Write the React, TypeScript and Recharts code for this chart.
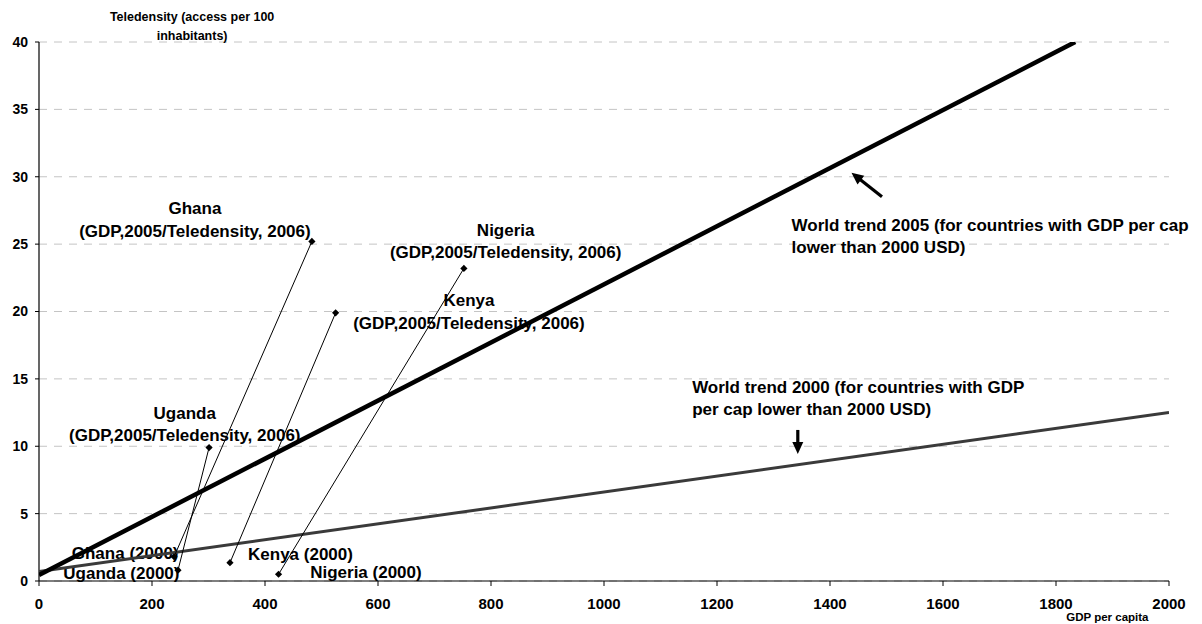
import React from 'react';
import {
  ComposedChart,
  Scatter,
  XAxis,
  YAxis,
  CartesianGrid,
  ReferenceDot,
  ReferenceLine,
} from 'recharts';

// ---- data ----
const xTicks = [0, 200, 400, 600, 800, 1000, 1200, 1400, 1600, 1800, 2000];
const yTicks = [0, 5, 10, 15, 20, 25, 30, 35, 40];

const countries = ['Ghana', 'Uganda', 'Kenya', 'Nigeria'];
const gdp2000 = [239, 246, 338, 424];
const tele2000 = [1.8, 0.8, 1.36, 0.5];
const gdp2005 = [483, 301, 525, 752];
const tele2006 = [25.2, 9.9, 19.9, 23.2];

const trend2005Gdp = [0, 1834];
const trend2005Tele = [0.45, 40];
const trend2000Gdp = [0, 2000];
const trend2000Tele = [0.7, 12.5];

// annotation texts (placed in data coordinates)
const noteLines = [
  ['Ghana', '(GDP,2005/Teledensity, 2006)'],
  ['Nigeria', '(GDP,2005/Teledensity, 2006)'],
  ['Kenya', '(GDP,2005/Teledensity, 2006)'],
  ['Uganda', '(GDP,2005/Teledensity, 2006)'],
  ['Ghana (2000)'],
  ['Uganda (2000)'],
  ['Kenya (2000)'],
  ['Nigeria (2000)'],
  ['World trend 2005 (for countries with GDP per cap', 'lower than 2000 USD)'],
  ['World trend 2000 (for countries with GDP', 'per cap lower than 2000 USD)'],
];
const noteX = [276, 826, 761, 258, 58, 43, 370, 480, 1332, 1156];
const noteY = [27.68, 26.05, 20.85, 12.49, 2.1, 0.57, 2.0, 0.65, 26.42, 14.42];
const noteAnchor = ['middle', 'middle', 'middle', 'middle', 'start', 'start', 'start', 'start', 'start', 'start'];

const yTitle = ['Teledensity (access per 100', 'inhabitants)'];
const xTitle = 'GDP per capita';

// arrows: tail -> tip
const arrowTail = [
  { x: 1492, y: 28.52 },
  { x: 1343, y: 11.21 },
];
const arrowTip = [
  { x: 1438, y: 30.3 },
  { x: 1343, y: 9.42 },
];

const FONT = "'Liberation Sans', Arial, Helvetica, sans-serif";

const countrySeries = countries.map((name, i) => ({
  name,
  data: [
    { x: gdp2000[i], y: tele2000[i] },
    { x: gdp2005[i], y: tele2006[i] },
  ],
}));
const trend2005 = trend2005Gdp.map((x, i) => ({ x, y: trend2005Tele[i] }));
const trend2000 = trend2000Gdp.map((x, i) => ({ x, y: trend2000Tele[i] }));

const Diamond = (props: any) => {
  const { cx, cy } = props;
  if (cx == null || cy == null) return <g />;
  const s = 3.6;
  return (
    <path
      d={`M${cx},${cy - s}L${cx + s},${cy}L${cx},${cy + s}L${cx - s},${cy}Z`}
      fill="#000"
    />
  );
};

const NoShape = () => <g />;

const makeText =
  (lines: string[], anchor: string, size: number, lineGap: number) =>
  (props: any) => {
    const { cx, cy } = props;
    return (
      <text
        x={cx}
        y={cy}
        textAnchor={anchor as any}
        fontFamily={FONT}
        fontWeight="bold"
        fontSize={size}
        fill="#000"
        dominantBaseline="central"
      >
        {lines.map((l, k) => (
          <tspan key={k} x={cx} dy={k === 0 ? 0 : lineGap}>
            {l}
          </tspan>
        ))}
      </text>
    );
  };

const ArrowShape = (props: any) => {
  const { x1, y1, x2, y2 } = props;
  if ([x1, y1, x2, y2].some((v) => v == null || isNaN(v))) return <g />;
  const dx = x2 - x1;
  const dy = y2 - y1;
  const len = Math.sqrt(dx * dx + dy * dy) || 1;
  const ux = dx / len;
  const uy = dy / len;
  const head = 12;
  const half = 5.5;
  const bx = x2 - ux * head;
  const by = y2 - uy * head;
  const px = -uy;
  const py = ux;
  return (
    <g>
      <line x1={x1} y1={y1} x2={bx + ux * 1} y2={by + uy * 1} stroke="#000" strokeWidth={3.2} />
      <polygon
        points={`${x2},${y2} ${bx + px * half},${by + py * half} ${bx - px * half},${by - py * half}`}
        fill="#000"
      />
    </g>
  );
};

export default function App() {
  return (
    <div style={{ position: 'absolute', left: 0, top: 0, width: 1202, height: 624, background: '#fff' }}>
      <ComposedChart
        width={1202}
        height={624}
        margin={{ top: 42, right: 33, bottom: 13, left: 0 }}
      >
        <CartesianGrid
          vertical={false}
          stroke="#c4c4c4"
          strokeDasharray="8 7"
          strokeWidth={1}
        />
        <XAxis
          type="number"
          dataKey="x"
          domain={[0, 2000]}
          ticks={xTicks}
          interval={0}
          height={30}
          axisLine={{ stroke: '#000', strokeWidth: 1.2 }}
          tickLine={{ stroke: '#000' }}
          tickSize={5}
          tickMargin={12}
          tick={{ fill: '#000', fontSize: 15, fontWeight: 'bold', fontFamily: FONT }}
          allowDataOverflow
        />
        <YAxis
          type="number"
          dataKey="y"
          domain={[0, 40]}
          ticks={yTicks}
          interval={0}
          width={39}
          axisLine={{ stroke: '#000', strokeWidth: 1.2 }}
          tickLine={{ stroke: '#000' }}
          tickSize={4}
          tickMargin={7}
          tick={{ fill: '#000', fontSize: 14, fontWeight: 'bold', fontFamily: FONT }}
          allowDataOverflow
        />

        {noteLines.map((lines, i) => (
          <ReferenceDot
            key={'n' + i}
            x={noteX[i]}
            y={noteY[i]}
            r={0}
            ifOverflow="visible"
            shape={makeText(lines, noteAnchor[i], 17, 22.5)}
          />
        ))}
        <ReferenceDot
          x={271}
          y={41.88}
          r={0}
          ifOverflow="visible"
          shape={makeText(yTitle, 'middle', 12.5, 19)}
        />
        <ReferenceDot
          x={1891}
          y={-2.67}
          r={0}
          ifOverflow="visible"
          shape={makeText([xTitle], 'middle', 11.5, 0)}
        />

        <Scatter
          name="World trend 2000"
          data={trend2000}
          line={{ stroke: '#3a3a3a', strokeWidth: 3 }}
          shape={NoShape}
          isAnimationActive={false}
          legendType="none"
        />
        <Scatter
          name="World trend 2005"
          data={trend2005}
          line={{ stroke: '#000', strokeWidth: 4.5 }}
          shape={NoShape}
          isAnimationActive={false}
          legendType="none"
        />
        {countrySeries.map((s) => (
          <Scatter
            key={s.name}
            name={s.name}
            data={s.data}
            line={{ stroke: '#000', strokeWidth: 1 }}
            shape={Diamond}
            fill="#000"
            isAnimationActive={false}
            legendType="none"
          />
        ))}

        {arrowTail.map((t, i) => (
          <ReferenceLine
            key={'a' + i}
            segment={[t, arrowTip[i]]}
            ifOverflow="visible"
            shape={ArrowShape}
          />
        ))}
      </ComposedChart>
    </div>
  );
}
